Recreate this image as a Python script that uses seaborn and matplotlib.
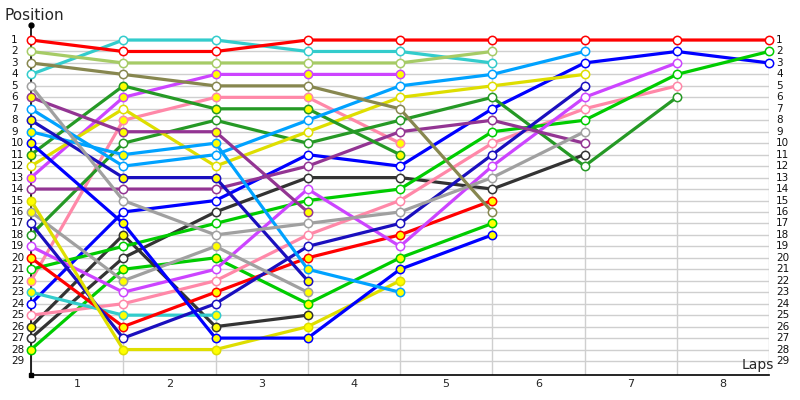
import matplotlib
matplotlib.use("Agg")
import matplotlib.pyplot as plt
import matplotlib.transforms as mtransforms
import numpy as np
import pandas as pd
import seaborn as sns

# ---------------- data (positions per lap, lap 0 = start) ----------------
lap_labels = ["1", "2", "3", "4", "5", "6", "7", "8"]
position_labels = [str(i) for i in range(1, 30)]

red_a = [1, 2, 2, 1, 1, 1, 1, 1, 1]
lightgreen_a = [2, 3, 3, 3, 3, 2]
olive_a = [3, 4, 5, 5, 7, 16]
cyan_a = [4, 1, 1, 2, 2, 3]
gray_a = [5, 15, 18, 17, 16, 13, 9]
purple_a = [6, 9, 9, 16]
sky_a = [7, 12, 11, 8, 5, 4, 2]
navy_a = [8, 13, 13, 22]
sky_b = [9, 11, 10, 21, 23]
blue_a = [10, 17, 27, 27, 21, 18]
forest_a = [11, 5, 7, 7, 11]
yellow_a = [12, 7, 12, 9, 6, 5, 4]
violet_a = [13, 6, 4, 4, 4]
purple_b = [14, 14, 14, 12, 9, 8, 10]
yellow_b = [15, 28, 28, 26, 22]
gray_b = [16, 22, 19, 23]
navy_b = [17, 27, 24, 19, 17, 11, 5]
forest_b = [18, 10, 8, 10, 8, 6, 12, 6]
violet_b = [19, 23, 21, 14, 19, 12, 6, 3]
red_b = [20, 26, 23, 20, 18, 15]
green_a = [21, 19, 17, 15, 14, 9, 8, 4, 2]
pink_a = [22, 8, 6, 6, 10]
cyan_b = [23, 25, 25]
blue_b = [24, 16, 15, 11, 12, 7, 3, 2, 3]
pink_b = [25, 24, 22, 18, 15, 10, 7, 5]
dark_a = [26, 18, 26, 25]
dark_b = [27, 20, 16, 13, 13, 14, 11]
green_b = [28, 21, 20, 24, 20, 17]

# ---------------- styles ----------------
RED, LGREEN, OLIVE, CYAN = "#ff0000", "#a6cb66", "#87874f", "#33cccc"
GRAY, PURPLE, SKY, NAVY = "#a0a0a0", "#933593", "#00a2ff", "#1a0fbe"
BLUE, FOREST, YELLOW, VIOLET = "#0000ff", "#259925", "#dede00", "#cc44ff"
GREEN, PINK, DARK = "#00cc00", "#ff88a8", "#333333"
WHITE_FILL, YELLOW_FILL = "#ffffff", "#ffff00"

series = [
    (red_a, RED, WHITE_FILL), (lightgreen_a, LGREEN, WHITE_FILL),
    (olive_a, OLIVE, WHITE_FILL), (cyan_a, CYAN, WHITE_FILL),
    (gray_a, GRAY, WHITE_FILL), (purple_a, PURPLE, YELLOW_FILL),
    (sky_a, SKY, WHITE_FILL), (navy_a, NAVY, YELLOW_FILL),
    (sky_b, SKY, YELLOW_FILL), (blue_a, BLUE, YELLOW_FILL),
    (forest_a, FOREST, YELLOW_FILL), (yellow_a, YELLOW, WHITE_FILL),
    (violet_a, VIOLET, YELLOW_FILL), (purple_b, PURPLE, WHITE_FILL),
    (yellow_b, YELLOW, YELLOW_FILL), (gray_b, GRAY, YELLOW_FILL),
    (navy_b, NAVY, WHITE_FILL), (forest_b, FOREST, WHITE_FILL),
    (violet_b, VIOLET, WHITE_FILL), (red_b, RED, YELLOW_FILL),
    (green_a, GREEN, WHITE_FILL), (pink_a, PINK, YELLOW_FILL),
    (cyan_b, CYAN, YELLOW_FILL), (blue_b, BLUE, WHITE_FILL),
    (pink_b, PINK, WHITE_FILL), (dark_a, DARK, YELLOW_FILL),
    (dark_b, DARK, WHITE_FILL), (green_b, GREEN, YELLOW_FILL),
]

sns.set_style("white")
plt.rcParams["font.family"] = ["DejaVu Sans"]

fig = plt.figure(figsize=(8, 4), dpi=100)
ax = fig.add_axes([31 / 800, 25 / 400, 738 / 800, 350 / 400])

n_laps = len(lap_labels)
n_pos = len(position_labels)
y_top, y_bot = -0.31, 30.22
ax.set_xlim(0, n_laps)
ax.set_ylim(y_bot, y_top)

grid_c = "#cfcfcf"
ax.hlines(range(1, n_pos + 1), 0, n_laps, colors=grid_c, lw=1, zorder=0)
ax.vlines(range(0, n_laps + 1), 1, y_bot, colors=grid_c, lw=1, zorder=0)

for vals, col, fill in reversed(series):
    df = pd.DataFrame({"lap": np.arange(len(vals)), "pos": vals})
    sns.lineplot(data=df, x="lap", y="pos", ax=ax, color=col, lw=2.3,
                 marker="o", markersize=6, markerfacecolor=fill,
                 markeredgecolor=col, markeredgewidth=1.1, sort=False,
                 clip_on=False, zorder=3)

# axes styling
for s in ["top", "right"]:
    ax.spines[s].set_visible(False)
ax.spines["left"].set_color("black")
ax.spines["bottom"].set_color("black")
ax.spines["left"].set_linewidth(1.2)
ax.spines["bottom"].set_linewidth(1.2)

ax.set_yticks(range(1, n_pos + 1))
ax.set_yticklabels([])
ax.tick_params(axis="y", direction="inout", length=5, width=1, color="black")
ax.set_xticks(np.arange(n_laps) + 0.5)
ax.set_xticklabels(lap_labels, fontsize=8)
ax.tick_params(axis="x", length=0, pad=3)
ax.set_xlabel("")
ax.set_ylabel("")

trans = mtransforms.blended_transform_factory(ax.transAxes, ax.transData)
for i, lab in enumerate(position_labels):
    ax.text(-20 / 738, i + 1, lab, transform=trans, ha="left", va="center",
            fontsize=7.5, color="#111111")
    ax.text(1 + 7 / 738, i + 1, lab, transform=trans, ha="left", va="center",
            fontsize=7.5, color="#111111")

ax.plot([0], [y_top], marker="o", ms=3.5, color="black", clip_on=False, zorder=5)
ax.plot([0], [y_bot], marker="s", ms=2.5, color="black", clip_on=False, zorder=5)

fig.text(5 / 800, 1 - 15 / 400, "Position", ha="left", va="center", fontsize=11)
fig.text(742 / 800, 1 - 365 / 400, "Laps", ha="left", va="center", fontsize=10)

fig.savefig("out.png", dpi=100)
